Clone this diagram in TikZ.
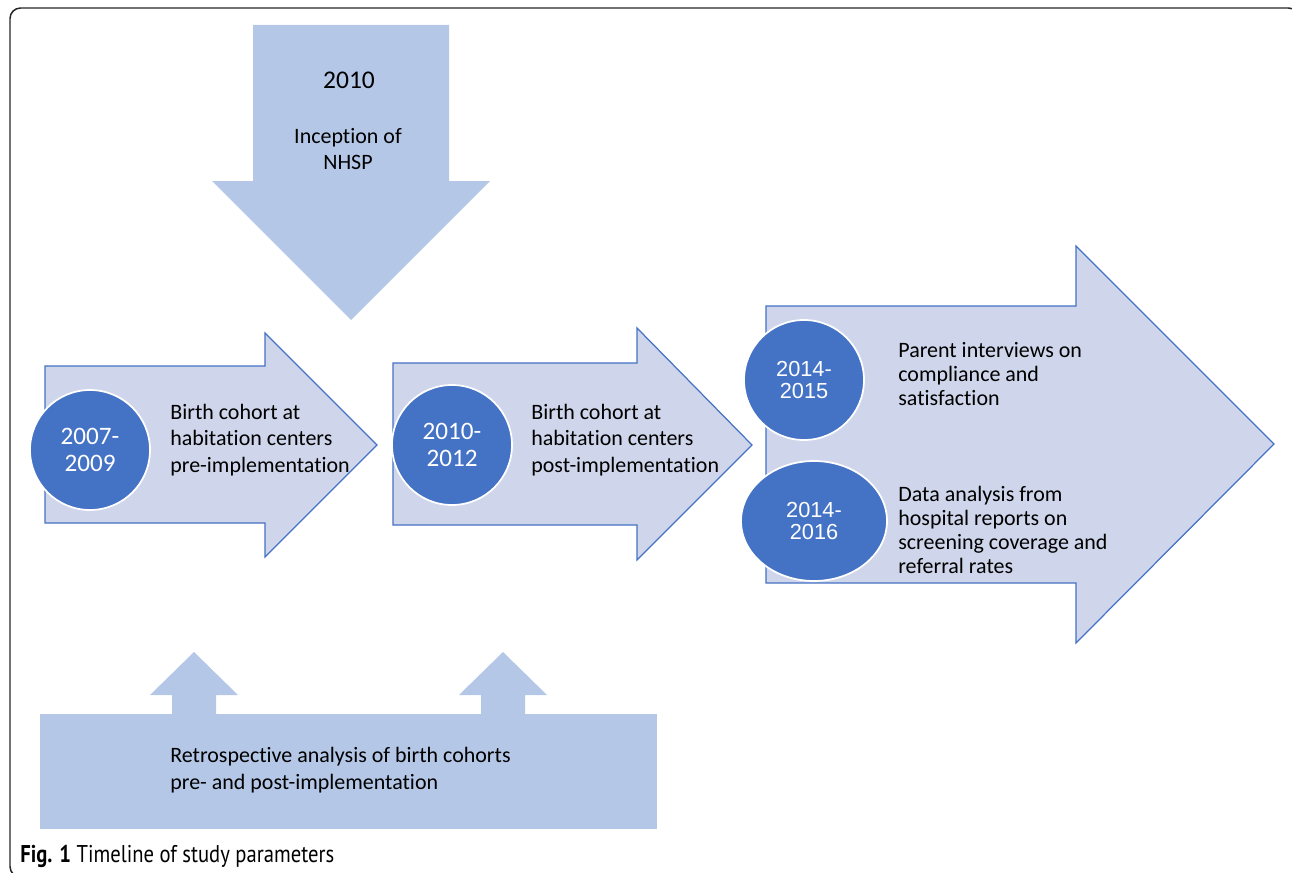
\documentclass[tikz,border=0pt]{standalone}
\usepackage{fontspec}
\setmainfont[Ligatures=NoCommon]{Carlito}
\newfontfamily\yearfont{Liberation Sans}
\newfontfamily\capfont[FakeStretch=0.85]{PT Sans}
\usetikzlibrary{shapes.geometric}
\definecolor{paleblue}{HTML}{B4C7E7}
\definecolor{phasefill}{HTML}{CFD5EA}
\definecolor{accent}{HTML}{4472C4}

\begin{document}
\begin{tikzpicture}[%
    x=0.2mm,
    y=-0.2mm,
    phase/.style={%
        fill=phasefill,
        draw=accent,
        line width=0.7pt,
        line join=miter
    },
    marker/.style={%
        fill=paleblue
    },
    year/.style={%
        circle,
        fill=accent,
        draw=white,
        line width=1pt,
        text=white,
        minimum size=24mm,
        inner sep=0pt,
        align=center,
        font=\fontsize{14.3}{15.3}\selectfont
    },
    yearRight/.style={%
        year,
        font=\yearfont\fontsize{12.4}{12.6}\selectfont
    },
    note/.style={%
        anchor=west,
        align=left,
        inner sep=0pt,
        font=\fontsize{12.5}{15}\selectfont
    },
    noteRight/.style={%
        note,
        font=\fontsize{12.5}{13.6}\selectfont
    }
]
\useasboundingbox (0,0) rectangle (1292,873);
\clip (0,0) rectangle (1292,873);

% Frame
    \draw[line width=0.85pt, draw=black!85, rounded corners=6pt] (10,8) rectangle (1299,877);

% Inception of NHSP
    \fill[marker] (253,25) -- (449,25) -- (449,181) -- (490,181) -- (351,320)
        -- (212,181) -- (253,181) -- cycle;
    \node[font=\fontsize{14.5}{17}\selectfont] (launchYear) at (349,80) {2010};
    \node[align=center, font=\fontsize{12.5}{15}\selectfont] (launch) at (348,149) {Inception of\\NHSP};

% Pre-implementation
    \draw[phase] (45,366) -- (265,366) -- (265,333) -- (377,445) -- (265,557)
        -- (265,523) -- (45,523) -- cycle;
    \node[year] (yearPre) at (90,450) {2007-\\2009};
    \node[note] (cohortPre) at (170,440) {Birth cohort at\\habitation centers\\pre-implementation};

% Post-implementation
    \draw[phase] (393,363) -- (637,363) -- (637,328) -- (752,445) -- (637,560)
        -- (637,525) -- (393,525) -- cycle;
    \node[year] (yearPost) at (452,445) {2010-\\2012};
    \node[note] (cohortPost) at (531,440) {Birth cohort at\\habitation centers\\post-implementation};

% Follow-up
    \draw[phase] (766,306) -- (1076,306) -- (1076,246) -- (1274,444) -- (1076,643)
        -- (1076,583) -- (766,583) -- cycle;
    \node[yearRight] (yearParents) at (804,380) {2014-\\2015};
    \node[noteRight] (parents) at (898,374) {Parent interviews on\\compliance and\\satisfaction};
    \node[yearRight, ellipse, minimum width=29.2mm, minimum height=24mm] (yearData) at (814,521) {2014-\\2016};
    \node[noteRight] (hospital) at (898,530) {Data analysis from\\hospital reports on\\screening coverage and\\referral rates};

% Retrospective analysis
    \fill[marker] (40,714) rectangle (657,829);
    \fill[marker] (172,714) -- (172,695) -- (150,695) -- (194,652) -- (238,695)
        -- (216,695) -- (216,714) -- cycle;
    \fill[marker] (481,714) -- (481,695) -- (459,695) -- (503,652) -- (547,695)
        -- (525,695) -- (525,714) -- cycle;
    \node[note] (retro) at (170,770) {Retrospective analysis of birth cohorts\\pre- and post-implementation};

% Caption
    \node[anchor=west, inner sep=0pt, font=\capfont\fontsize{13.8}{16}\selectfont] (caption) at (20,856) {\textbf{Fig. 1} Timeline of study parameters};

\end{tikzpicture}
\end{document}
